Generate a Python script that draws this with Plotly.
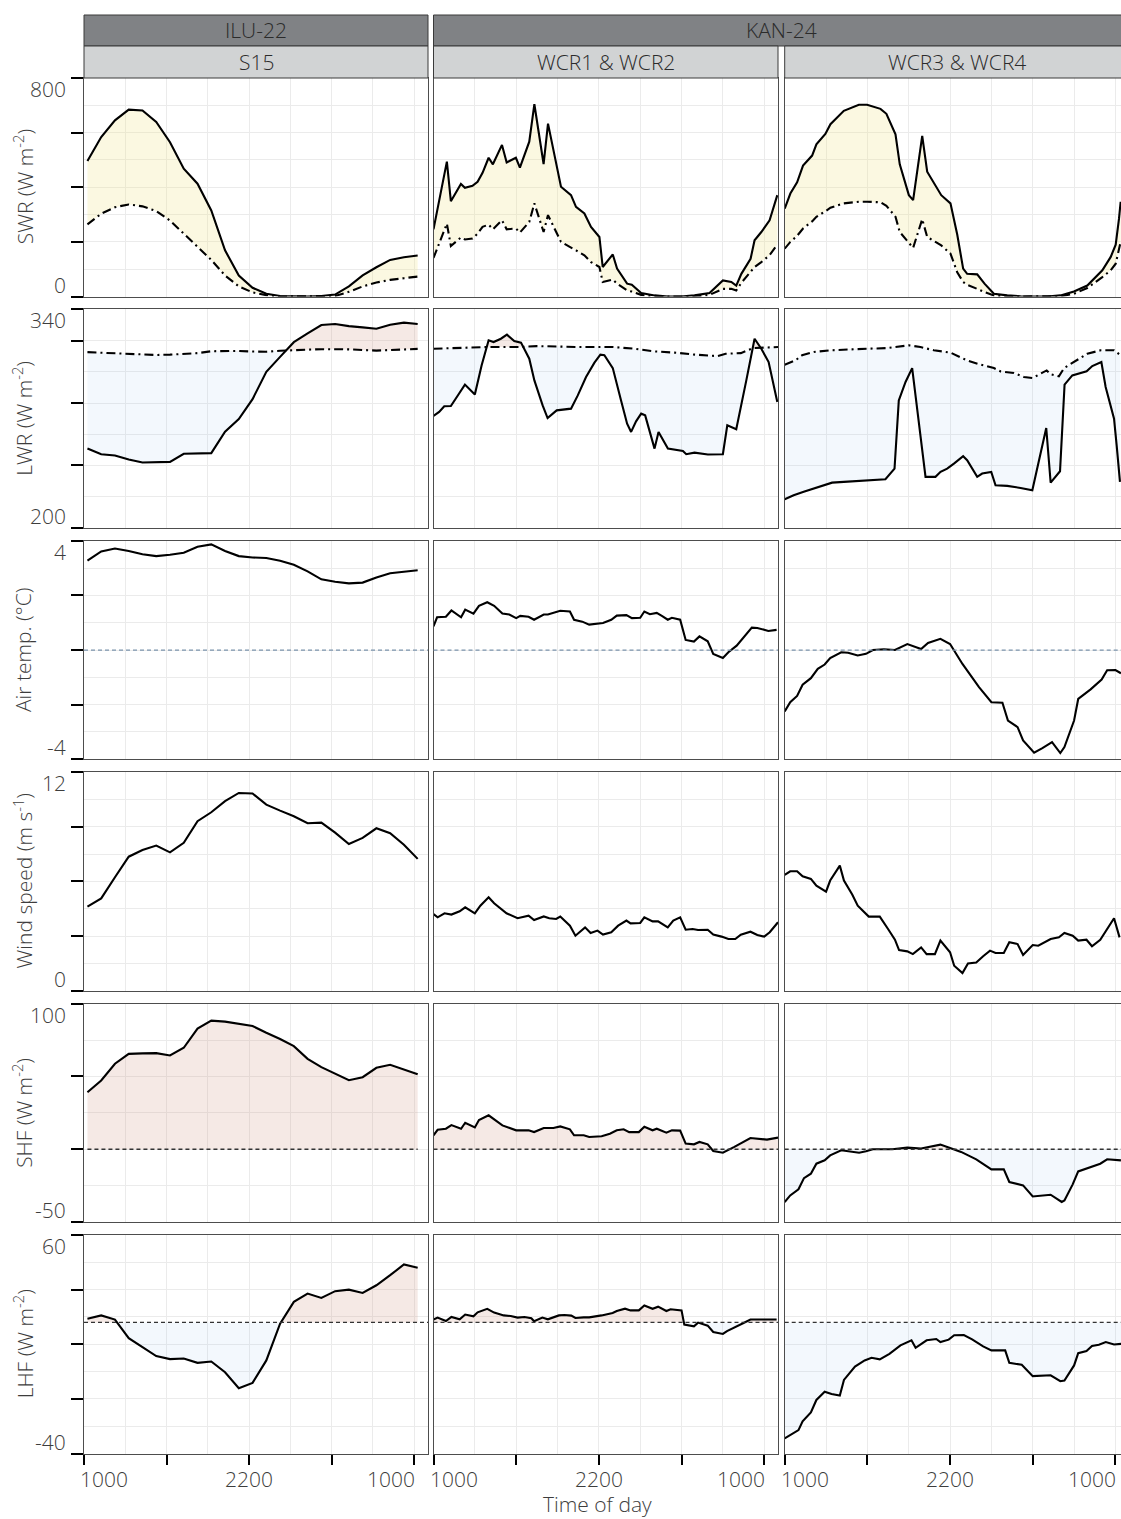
import numpy as np
import plotly.graph_objects as go

W, H = 1121, 1519
FONT = "'Open Sans', Roboto, 'Liberation Sans', Arial, sans-serif"

# ------------------------------------------------------------------ data
# Hours of day (10 = 10:00, 34 = 10:00 next day)
# ---- ILU-22 / S15 (hourly)
s15_t = [10.25, 11.25, 12.25, 13.25, 14.25, 15.25, 16.25, 17.25, 18.25, 19.25, 20.25, 21.25, 22.25,
         23.25, 24.25, 25.25, 26.25, 27.25, 28.25, 29.25, 30.25, 31.25, 32.25, 33.25, 34.25]
s15_swr_in = [496, 584, 645, 684, 681, 639, 565, 468, 413, 315, 169, 77, 32, 10, 2, 0, 0, 2, 7, 37, 77, 107, 134, 144, 150]
s15_swr_out = [264, 303, 327, 337, 330, 313, 278, 230, 183, 134, 77, 37, 15, 5, 0, 0, 0, 0, 2, 17, 37, 51, 61, 67, 73]
s15_lwr_in = [250.9, 247.2, 246.4, 243.8, 241.9, 241.9, 242.3, 247.5, 247.7, 247.9, 261.6, 269.7, 282.5,
              300.0, 309.6, 319.0, 324.6, 330.0, 330.6, 329.3, 328.5, 327.6, 330.2, 331.5, 330.6]
s15_lwr_out = [312.6, 312.3, 311.8, 311.3, 311.0, 310.8, 311.0, 311.5, 312.0, 313.2, 313.5, 313.4, 313.0,
               312.9, 313.5, 314.0, 314.2, 314.5, 314.6, 314.4, 314.0, 313.6, 314.0, 314.5, 314.7]
s15_air = [3.27, 3.61, 3.72, 3.63, 3.51, 3.44, 3.49, 3.56, 3.78, 3.87, 3.63, 3.44, 3.39, 3.37, 3.27, 3.12,
           2.88, 2.59, 2.50, 2.44, 2.47, 2.66, 2.81, 2.86, 2.92]
s15_wind = [4.62, 5.07, 6.23, 7.36, 7.73, 7.97, 7.60, 8.12, 9.31, 9.80, 10.41, 10.86, 10.83, 10.22, 9.89,
            9.58, 9.20, 9.23, 8.68, 8.06, 8.39, 8.92, 8.65, 8.02, 7.24]
s15_shf = [39.1, 47.2, 58.7, 65.5, 65.8, 66.0, 64.4, 69.7, 82.8, 88.3, 87.6, 86.2, 84.6, 80.0, 75.7, 70.8,
           62.1, 56.4, 51.8, 47.4, 49.5, 55.9, 58.0, 55.0, 51.5]
s15_lhf = [21.7, 23.2, 21.3, 12.8, 8.7, 4.6, 3.2, 3.5, 1.5, 2.1, -2.8, -10.1, -7.7, 2.6, 19.4, 29.4, 33.2,
           31.2, 34.3, 35.0, 33.5, 37.0, 41.6, 46.5, 45.0]

# ---- KAN-24 / WCR1 & WCR2
w12_swr_t = [10.00, 10.97, 11.26, 11.99, 12.28, 12.83, 13.20, 13.56, 14.00, 14.31, 14.97, 15.31, 15.98, 16.27,
             16.95, 17.32, 17.99, 18.31, 19.25, 19.98, 20.34, 20.95, 21.43, 22.04, 22.28, 23.01, 23.32, 24.05,
             24.39, 25.07, 26.04, 27.01, 27.97, 28.94, 30.03, 31.00, 31.61, 31.97, 32.34, 33.01, 33.30, 33.79,
             34.39, 34.95]
w12_swr_in = [246, 494, 349, 412, 398, 405, 420, 453, 508, 484, 555, 491, 508, 472, 567, 704, 485, 633, 402, 371,
              328, 304, 255, 218, 108, 154, 102, 47, 43, 13, 4, 0, 0, 4, 13, 59, 53, 40, 83, 138, 206, 236, 279, 371]
w12_swr_out = [141, 267, 185, 216, 209, 212, 230, 255, 263, 246, 279, 246, 249, 234, 273, 341, 236, 298, 200, 181,
               169, 151, 126, 108, 53, 62, 47, 22, 18, 6, 1, 0, 0, 0, 6, 28, 28, 22, 50, 89, 108, 126, 151, 190]
w12_lwr_in_t = [10.00, 10.41, 10.78, 11.26, 11.74, 12.28, 13.00, 13.49, 14.00, 14.36, 14.89, 15.33, 15.86, 16.35,
                16.95, 17.32, 17.92, 18.28, 18.94, 19.45, 19.98, 20.47, 21.07, 21.68, 22.11, 22.40, 23.01, 23.61,
                24.05, 24.34, 24.70, 25.07, 25.36, 26.04, 26.33, 27.01, 27.61, 28.10, 28.34, 28.94, 29.91, 31.00,
                31.32, 31.97, 32.70, 33.30, 33.79, 34.32, 34.95]
w12_lwr_in = [271.7, 274.3, 277.9, 278.1, 284.5, 291.8, 285.4, 304.1, 320.2, 319.1, 321.2, 323.8, 319.7, 318.7,
              308.4, 294.5, 278.5, 270.4, 275.3, 276.0, 276.4, 284.9, 296.7, 305.9, 311.0, 310.6, 302.4, 281.7,
              266.8, 261.5, 268.3, 273.2, 272.1, 250.8, 261.5, 250.8, 249.7, 249.3, 247.2, 248.2, 247.0, 247.2,
              265.7, 263.2, 294.5, 321.2, 314.8, 306.3, 280.7]
w12_lwr_out_t = [10.0, 11.5, 14.0, 16.3, 17.5, 20.5, 23.0, 24.6, 26.0, 27.5, 29.0, 30.6, 31.2, 32.3, 33.2, 35.0]
w12_lwr_out = [314.8, 315.3, 315.9, 315.9, 316.5, 315.9, 315.9, 314.8, 313.1, 312.3, 311.0, 310.1, 311.6, 312.0,
               315.2, 315.9]
w12_air_t = [10.0, 10.26, 10.9, 11.3, 12.0, 12.3, 12.9, 13.3, 13.9, 14.4, 15.0, 15.5, 16.0, 16.3, 16.9, 17.3,
             18.0, 18.3, 19.2, 19.9, 20.2, 20.8, 21.3, 22.3, 22.9, 23.3, 24.0, 24.4, 25.0, 25.3, 25.7, 26.2,
             26.6, 27.0, 27.3, 27.9, 28.3, 28.9, 29.3, 29.9, 30.3, 31.0, 31.4, 32.0, 33.1, 33.5, 34.3, 34.9]
w12_air = [0.87, 1.20, 1.22, 1.45, 1.20, 1.48, 1.33, 1.62, 1.75, 1.62, 1.34, 1.30, 1.17, 1.25, 1.22, 1.11,
           1.30, 1.30, 1.44, 1.41, 1.11, 1.04, 0.93, 0.99, 1.11, 1.26, 1.28, 1.17, 1.18, 1.41, 1.31, 1.36,
           1.24, 1.11, 1.18, 1.11, 0.37, 0.31, 0.50, 0.32, -0.14, -0.29, -0.08, 0.16, 0.82, 0.81, 0.70, 0.74]
w12_wind_t = [10.0, 10.3, 10.8, 11.3, 11.9, 12.3, 13.0, 13.4, 14.0, 14.4, 15.3, 16.1, 16.9, 17.3, 18.0, 18.4,
              18.9, 19.2, 19.9, 20.3, 21.0, 21.4, 21.9, 22.3, 22.9, 23.4, 24.0, 24.3, 25.0, 25.3, 25.9, 26.3,
              27.0, 27.4, 27.9, 28.3, 28.8, 29.2, 29.9, 30.3, 30.9, 31.4, 31.9, 32.3, 33.0, 33.5, 34.0, 34.4, 35.0]
w12_wind = [4.21, 4.03, 4.25, 4.18, 4.36, 4.58, 4.25, 4.67, 5.13, 4.80, 4.25, 3.98, 4.12, 3.88, 4.08, 3.98,
            3.94, 4.07, 3.57, 3.02, 3.48, 3.17, 3.30, 3.08, 3.21, 3.57, 3.85, 3.70, 3.72, 4.03, 3.81, 3.81,
            3.48, 3.85, 4.03, 3.35, 3.39, 3.33, 3.35, 3.08, 2.97, 2.84, 2.84, 3.08, 3.24, 3.06, 2.97, 3.21, 3.76]
w12_shf_t = [10.0, 10.3, 10.9, 11.3, 12.0, 12.3, 13.0, 13.3, 14.0, 14.4, 15.0, 16.0, 16.9, 17.3, 18.0, 18.7,
             19.2, 19.9, 20.2, 20.9, 21.3, 22.2, 22.8, 23.3, 23.8, 24.2, 24.9, 25.3, 25.9, 26.2, 26.9, 27.3,
             27.9, 28.3, 28.9, 29.3, 29.9, 30.3, 31.0, 31.8, 33.0, 34.2, 35.0]
w12_shf = [9.6, 13.4, 14.1, 16.6, 14.1, 18.2, 15.0, 20.1, 23.3, 20.5, 16.4, 13.0, 13.0, 11.8, 14.6, 14.6,
           15.7, 13.7, 9.6, 9.6, 8.4, 8.9, 10.7, 13.0, 13.7, 11.8, 11.8, 15.5, 13.0, 14.1, 11.4, 13.0,
           12.8, 3.9, 3.4, 5.0, 3.4, -1.2, -2.4, 1.5, 7.7, 6.6, 8.0]
w12_lhf_t = [10.0, 10.3, 10.9, 11.3, 11.9, 12.3, 12.9, 13.2, 13.9, 14.4, 15.1, 15.6, 16.1, 16.6, 17.1, 17.3,
             17.9, 18.3, 19.1, 19.5, 20.0, 20.3, 20.9, 21.3, 22.2, 23.0, 23.3, 23.9, 24.3, 24.9, 25.3, 25.9,
             26.3, 26.9, 27.2, 28.0, 28.2, 28.9, 29.2, 29.9, 30.3, 31.0, 31.3, 32.1, 32.5, 33.0, 34.1, 34.9]
w12_lhf = [21.3, 22.2, 20.6, 22.5, 21.4, 23.6, 22.8, 24.6, 26.2, 24.5, 23.2, 22.9, 22.2, 22.5, 21.9, 20.5,
           22.2, 21.4, 23.2, 23.4, 23.1, 22.0, 22.3, 22.3, 23.2, 24.3, 25.2, 26.3, 25.5, 25.5, 27.7, 26.2,
           27.2, 25.2, 26.0, 25.5, 19.0, 18.2, 19.9, 18.5, 15.6, 14.7, 16.0, 18.3, 19.7, 21.3, 21.3, 21.3]

# ---- KAN-24 / WCR3 & WCR4
w34_swr_t = [10.00, 10.41, 10.90, 11.33, 11.99, 12.30, 12.95, 13.32, 14.29, 15.38, 15.98, 16.95, 17.38, 18.04,
             18.35, 19.01, 19.32, 19.98, 20.34, 20.94, 21.36, 22.03, 22.52, 22.95, 23.24, 23.97, 24.50, 25.18,
             26.15, 27.12, 29.06, 30.02, 30.99, 31.96, 33.05, 33.66, 34.02, 34.26, 34.38]
w34_swr_in = [322, 377, 418, 479, 516, 557, 595, 631, 680, 702, 702, 687, 669, 594, 484, 371, 353, 588, 457, 408,
              371, 341, 227, 102, 83, 81, 47, 10, 4, 1, 0, 4, 18, 40, 96, 145, 190, 285, 347]
w34_swr_out = [175, 200, 222, 249, 275, 292, 312, 325, 341, 347, 347, 345, 332, 292, 236, 194, 178, 283, 218, 200,
               187, 157, 89, 53, 43, 28, 16, 4, 0, 0, 0, 1, 10, 31, 71, 96, 120, 170, 200]
w34_lwr_in_t = [10.00, 10.65, 11.38, 12.11, 12.83, 13.44, 14.29, 15.25, 16.22, 17.31, 17.97, 18.28, 18.77, 19.25,
                20.22, 20.94, 21.31, 21.79, 22.28, 22.95, 23.24, 23.97, 24.33, 24.99, 25.30, 26.15, 27.12, 27.97,
                28.98, 29.30, 29.98, 30.31, 30.87, 31.48, 31.91, 32.32, 32.98, 33.29, 33.90, 34.09, 34.33]
w34_lwr_in = [218.4, 220.9, 223.1, 225.2, 226.9, 229.0, 229.5, 229.9, 230.5, 231.2, 238.0, 281.7, 293.5, 302.4,
              232.7, 232.7, 235.9, 238.0, 241.2, 245.9, 243.4, 232.7, 234.8, 235.9, 227.3, 226.9, 225.6, 224.1,
              264.0, 229.0, 236.3, 291.8, 297.7, 299.2, 300.3, 303.7, 306.3, 290.3, 270.0, 252.9, 229.5]
w34_lwr_out_t = [10.00, 10.77, 11.26, 12.11, 13.32, 14.53, 15.98, 17.43, 18.04, 19.01, 19.85, 20.82, 22.03, 23.24,
                 24.21, 25.18, 25.67, 26.63, 27.36, 27.97, 28.57, 29.01, 29.30, 29.90, 30.27, 30.99, 31.96, 32.93,
                 33.90, 34.38]
w34_lwr_out = [304.6, 307.3, 310.6, 312.7, 313.8, 314.4, 314.8, 315.2, 315.9, 317.0, 315.9, 313.8, 312.3, 307.3,
               304.6, 302.4, 300.3, 299.2, 296.7, 296.0, 298.8, 300.9, 298.4, 297.1, 302.4, 306.3, 311.6, 313.8,
               313.8, 310.6]
w34_air_t = [10.0, 10.4, 10.9, 11.3, 11.9, 12.4, 12.9, 13.3, 14.1, 14.6, 15.3, 15.9, 16.4, 17.2, 18.0, 18.9,
             19.9, 20.4, 21.3, 22.0, 22.9, 24.1, 25.0, 25.8, 26.2, 26.9, 27.3, 28.1, 28.7, 29.4, 30.0, 30.3,
             31.0, 31.3, 32.2, 33.0, 33.4, 34.0, 34.4]
w34_air = [-2.25, -1.91, -1.68, -1.27, -1.03, -0.69, -0.53, -0.29, -0.08, -0.10, -0.20, -0.14, 0.00, 0.03,
           0.00, 0.22, 0.04, 0.26, 0.41, 0.22, -0.51, -1.36, -1.91, -1.93, -2.58, -2.82, -3.31, -3.76, -3.59,
           -3.37, -3.77, -3.55, -2.58, -1.79, -1.44, -1.08, -0.74, -0.73, -0.85]
w34_wind_t = [10.0, 10.4, 10.9, 11.3, 11.9, 12.3, 13.0, 13.3, 14.0, 14.3, 14.9, 15.3, 16.1, 16.9, 17.5, 18.0,
              18.3, 18.9, 19.3, 19.9, 20.3, 20.9, 21.3, 22.0, 22.3, 22.9, 23.3, 23.9, 24.4, 24.9, 25.3, 25.9,
              26.3, 26.9, 27.3, 28.0, 28.4, 28.9, 29.3, 29.9, 30.3, 30.9, 31.3, 31.9, 32.3, 32.9, 33.4, 33.9, 34.3]
w34_wind = [6.36, 6.56, 6.56, 6.28, 6.14, 5.77, 5.44, 6.05, 6.87, 6.05, 5.28, 4.67, 4.07, 4.07, 3.39, 2.80,
            2.23, 2.16, 2.01, 2.38, 2.01, 2.01, 2.75, 2.11, 1.37, 0.97, 1.50, 1.55, 1.89, 2.20, 2.07, 2.07,
            2.66, 2.56, 1.96, 2.51, 2.47, 2.66, 2.84, 2.93, 3.17, 3.02, 2.75, 2.80, 2.44, 2.80, 3.39, 3.98, 2.93]
w34_shf_t = [10.0, 10.4, 11.0, 11.4, 11.9, 12.3, 12.9, 13.3, 14.1, 14.8, 15.4, 15.9, 16.4, 17.8, 18.9, 19.9,
             20.4, 21.3, 22.0, 22.8, 23.9, 25.0, 25.9, 26.3, 27.3, 28.0, 29.3, 30.1, 30.3, 30.9, 31.3, 31.9,
             32.3, 32.9, 33.4, 34.0, 34.4]
w34_shf = [-36.2, -31.7, -27.5, -19.8, -16.8, -9.9, -7.6, -4.2, -0.7, -1.4, -2.4, -1.4, 0.0, 0.0, 1.1, 0.5,
           1.6, 3.2, 0.9, -1.8, -6.9, -13.8, -13.8, -22.5, -24.8, -32.4, -31.2, -36.2, -35.1, -24.1, -15.2,
           -13.3, -11.5, -9.9, -6.9, -7.6, -7.6]
w34_lhf_t = [10.0, 10.4, 11.0, 11.3, 11.9, 12.3, 12.9, 13.4, 14.0, 14.3, 15.1, 15.8, 16.3, 16.9, 17.6, 18.4,
             19.2, 19.5, 20.3, 21.0, 21.3, 21.9, 22.3, 23.0, 23.6, 24.4, 25.0, 26.0, 26.3, 27.2, 28.0, 29.3,
             30.0, 30.3, 31.0, 31.3, 31.9, 32.3, 32.8, 33.3, 33.9, 34.5]
w34_lhf = [-33.1, -31.6, -29.3, -25.3, -21.2, -15.5, -11.7, -12.8, -13.5, -6.3, -0.2, 2.6, 3.8, 3.1, 5.6, 9.5,
           11.8, 8.4, 11.8, 12.4, 11.0, 12.1, 14.1, 14.2, 12.2, 9.0, 7.2, 7.2, 1.5, 0.6, -4.6, -4.2, -6.9,
           -6.6, 0.3, 5.9, 6.9, 9.2, 9.8, 11.0, 9.9, 10.2]

# ---- labels / axes
site_labels = ["ILU-22", "KAN-24"]
panel_labels = ["S15", "WCR1 & WCR2", "WCR3 & WCR4"]
row_titles = ["SWR (W m<sup>-2</sup>)", "LWR (W m<sup>-2</sup>)", "Air temp. (°C)",
              "Wind speed (m s<sup>-1</sup>)", "SHF (W m<sup>-2</sup>)", "LHF (W m<sup>-2</sup>)"]
y_limits = [(0, 800), (200, 340), (-4, 4), (0, 12), (-50, 100), (-40, 60)]
y_major = [[0, 200, 400, 600, 800], [200, 240, 280, 320, 340], [-4, -2, 0, 2, 4], [0, 3, 6, 9, 12],
           [-50, 0, 50, 100], [-40, -15, 10, 35, 60]]
y_minor = [[100, 300, 500, 700], [220, 260, 300], [-3, -1, 1, 3], [1.5, 4.5, 7.5, 10.5],
           [-25, 25, 75], [-27.5, -2.5, 22.5, 47.5]]
y_tick_text = [("0", "800"), ("200", "340"), ("-4", "4"), ("0", "12"), ("-50", "100"), ("-40", "60")]
x_major = [10, 16, 22, 28, 34]
x_minor = [13, 19, 25, 31]
x_tick_text = {10: "1000", 22: "2200", 34: "1000"}
air_ref, shf_ref, lhf_ref = 0, 0, 20

# ------------------------------------------------------------------ layout geometry (pixels)
col_px = [(84, 428), (433.5, 778), (784.7, 1121)]
px_per_h = (778 - 433.5) / 25.0
x_ranges = [[10, 35], [10, 35], [10, 10 + (1121 - 784.7) / px_per_h]]
row_top = [78, 309.4, 540.8, 772.2, 1003.6, 1235]
row_h = 218.5

C_YEL = "rgba(240,228,140,0.26)"
C_PINK = "rgba(205,145,125,0.2)"
C_BLUE = "rgba(160,200,235,0.12)"
GRID = "#EBEBEB"
BORDER = "#4D4D4D"
TXT = "#3D3D3D"
FS = 21


def px2x(p):
    return p / W


def px2y(p):
    return 1 - p / H


def aid(r, c):
    return r * 3 + c + 1


def xn(i):
    return "x" if i == 1 else f"x{i}"


def yn(i):
    return "y" if i == 1 else f"y{i}"


def band(xa, ya, xb, yb):
    xa, ya, xb, yb = (np.asarray(v, float) for v in (xa, ya, xb, yb))
    lo, hi = max(xa[0], xb[0]), min(xa[-1], xb[-1])
    g = np.union1d(xa, xb)
    g = g[(g >= lo) & (g <= hi)]
    a = np.interp(g, xa, ya)
    b = np.interp(g, xb, yb)
    xs, A, B = [g[0]], [a[0]], [b[0]]
    for i in range(1, len(g)):
        d0, d1 = a[i - 1] - b[i - 1], a[i] - b[i]
        if d0 * d1 < 0:
            f = d0 / (d0 - d1)
            xc = g[i - 1] + f * (g[i] - g[i - 1])
            yc = b[i - 1] + f * (b[i] - b[i - 1])
            xs.append(xc); A.append(yc); B.append(yc)
        xs.append(g[i]); A.append(a[i]); B.append(b[i])
    xs, A, B = np.array(xs), np.array(A), np.array(B)
    px = np.concatenate([xs, xs[::-1]])
    pos = np.concatenate([np.maximum(A, B), B[::-1]])
    neg = np.concatenate([B, np.minimum(A, B)[::-1]])
    return px, pos, neg


fig = go.Figure()


def add_fill(i, xa, ya, xb, yb, cpos, cneg):
    px, pos, neg = band(xa, ya, xb, yb)
    for yy, cc in ((pos, cpos), (neg, cneg)):
        fig.add_trace(go.Scatter(x=px, y=yy, xaxis=xn(i), yaxis=yn(i), mode="lines", fill="toself",
                                 fillcolor=cc, line=dict(width=0), hoverinfo="skip", showlegend=False))


def add_line(i, x, y, dash="solid"):
    fig.add_trace(go.Scatter(x=x, y=y, xaxis=xn(i), yaxis=yn(i), mode="lines",
                             line=dict(color="black", width=2.1, dash=dash), hoverinfo="skip",
                             showlegend=False))


DASHDOT = "9px,4px,2px,4px"

cols = [
    dict(swr=(s15_t, s15_swr_in, s15_t, s15_swr_out), lwr=(s15_t, s15_lwr_in, s15_t, s15_lwr_out),
         air=(s15_t, s15_air), wind=(s15_t, s15_wind), shf=(s15_t, s15_shf), lhf=(s15_t, s15_lhf)),
    dict(swr=(w12_swr_t, w12_swr_in, w12_swr_t, w12_swr_out),
         lwr=(w12_lwr_in_t, w12_lwr_in, w12_lwr_out_t, w12_lwr_out),
         air=(w12_air_t, w12_air), wind=(w12_wind_t, w12_wind), shf=(w12_shf_t, w12_shf),
         lhf=(w12_lhf_t, w12_lhf)),
    dict(swr=(w34_swr_t, w34_swr_in, w34_swr_t, w34_swr_out),
         lwr=(w34_lwr_in_t, w34_lwr_in, w34_lwr_out_t, w34_lwr_out),
         air=(w34_air_t, w34_air), wind=(w34_wind_t, w34_wind), shf=(w34_shf_t, w34_shf),
         lhf=(w34_lhf_t, w34_lhf)),
]

shapes = []
annotations = []
label_font = dict(family=FONT, size=FS, color=TXT, weight=300)

for c, d in enumerate(cols):
    # SWR
    i = aid(0, c)
    xa, ya, xb, yb = d["swr"]
    add_fill(i, xa, ya, xb, yb, C_YEL, C_YEL)
    add_line(i, xb, yb, DASHDOT)
    add_line(i, xa, ya)
    # LWR
    i = aid(1, c)
    xa, ya, xb, yb = d["lwr"]
    add_fill(i, xa, ya, xb, yb, C_PINK, C_BLUE)
    add_line(i, xb, yb, DASHDOT)
    add_line(i, xa, ya)
    # Air temperature
    i = aid(2, c)
    shapes.append(dict(type="line", xref=f"{xn(i)} domain", x0=0, x1=1, yref=yn(i), y0=air_ref, y1=air_ref,
                       line=dict(color="#7A93AC", width=1.3, dash="4px,3px"), layer="above"))
    add_line(i, *d["air"])
    # Wind
    i = aid(3, c)
    add_line(i, *d["wind"])
    # SHF
    i = aid(4, c)
    t, v = d["shf"]
    add_fill(i, t, v, [t[0], t[-1]], [shf_ref, shf_ref], C_PINK, C_BLUE)
    shapes.append(dict(type="line", xref=xn(i), x0=t[0], x1=t[-1], yref=yn(i), y0=shf_ref, y1=shf_ref,
                       line=dict(color="#333333", width=1.3, dash="4px,3px"), layer="above"))
    add_line(i, t, v)
    # LHF
    i = aid(5, c)
    t, v = d["lhf"]
    add_fill(i, t, v, [t[0], t[-1]], [lhf_ref, lhf_ref], C_PINK, C_BLUE)
    shapes.append(dict(type="line", xref=f"{xn(i)} domain", x0=0, x1=1, yref=yn(i), y0=lhf_ref, y1=lhf_ref,
                       line=dict(color="#333333", width=1.3, dash="4px,3px"), layer="above"))
    add_line(i, t, v)

layout = dict(width=W, height=H, margin=dict(l=0, r=0, t=0, b=0), paper_bgcolor="white",
              plot_bgcolor="white", showlegend=False, font=dict(family=FONT, color=TXT))

for r in range(6):
    for c in range(3):
        i = aid(r, c)
        x0, x1 = col_px[c]
        xkey = "xaxis" if i == 1 else f"xaxis{i}"
        ykey = "yaxis" if i == 1 else f"yaxis{i}"
        layout[xkey] = dict(
            domain=[px2x(x0), min(1.0, px2x(x1))], range=x_ranges[c], anchor=yn(i),
            tickmode="array", tickvals=x_major, showticklabels=False,
            ticks="outside" if r == 5 else "", ticklen=10, tickwidth=2, tickcolor="black",
            showgrid=True, gridcolor=GRID, gridwidth=1,
            minor=dict(tickmode="array", tickvals=x_minor, showgrid=True, gridcolor=GRID, gridwidth=0.8, ticks=""),
            showline=True, linecolor=BORDER, linewidth=1.3, mirror=True, zeroline=False, fixedrange=True)
        top = row_top[r]
        layout[ykey] = dict(
            domain=[px2y(top + row_h), px2y(top)], range=list(y_limits[r]), anchor=xn(i),
            tickmode="array", tickvals=y_major[r], showticklabels=False,
            ticks="outside" if c == 0 else "", ticklen=12, tickwidth=2, tickcolor="black",
            showgrid=True, gridcolor=GRID, gridwidth=1,
            minor=dict(tickmode="array", tickvals=y_minor[r], showgrid=True, gridcolor=GRID, gridwidth=0.8, ticks=""),
            showline=True, linecolor=BORDER, linewidth=1.3, mirror=(c < 2), zeroline=False, fixedrange=True)

    # row title and y tick labels
    i = aid(r, 0)
    annotations.append(dict(text=row_titles[r], xref="paper", yref="paper", x=px2x(23),
                            y=px2y(row_top[r] + row_h / 2), textangle=-90, showarrow=False,
                            xanchor="center", yanchor="middle", font=label_font))
    lo_txt, hi_txt = y_tick_text[r]
    annotations.append(dict(text=hi_txt, xref="paper", yref=yn(i), x=px2x(84), y=y_limits[r][1],
                            xanchor="right", yanchor="top", xshift=-16, yshift=5, showarrow=False,
                            font=label_font))
    annotations.append(dict(text=lo_txt, xref="paper", yref=yn(i), x=px2x(84), y=y_limits[r][0],
                            xanchor="right", yanchor="bottom", xshift=-16, yshift=-4, showarrow=False,
                            font=label_font))

# x tick labels
for c in range(3):
    i = aid(5, c)
    for xv, txt in x_tick_text.items():
        anchor = {10: "left", 22: "center", 34: "right"}[xv]
        shift = {10: -6, 22: 0, 34: 3}[xv]
        annotations.append(dict(text=txt, xref=xn(i), yref="paper", x=xv, y=px2y(row_top[5] + row_h),
                                xanchor=anchor, yanchor="top", xshift=shift, yshift=-9, showarrow=False,
                                font=label_font))
annotations.append(dict(text="Time of day", xref="paper", yref="paper", x=px2x(597), y=px2y(1504),
                        xanchor="center", yanchor="middle", showarrow=False, font=label_font))

# strips
strip_dark = "#808285"
strip_light = "#D1D3D4"
shapes.append(dict(type="rect", xref="paper", yref="paper", x0=px2x(84), x1=px2x(428), y0=px2y(46), y1=px2y(15),
                   fillcolor=strip_dark, line=dict(color="#3A3A3A", width=1), layer="above"))
shapes.append(dict(type="rect", xref="paper", yref="paper", x0=px2x(433.5), x1=px2x(1135), y0=px2y(46),
                   y1=px2y(15), fillcolor=strip_dark, line=dict(color="#3A3A3A", width=1), layer="above"))
for c in range(3):
    x0, x1 = col_px[c]
    if c == 2:
        x1 = 1135
    shapes.append(dict(type="rect", xref="paper", yref="paper", x0=px2x(x0), x1=px2x(x1), y0=px2y(78),
                       y1=px2y(46), fillcolor=strip_light, line=dict(color="#3A3A3A", width=1), layer="above"))
strip_font = dict(family=FONT, size=FS, color="#2B2B2B", weight=300)
annotations.append(dict(text=site_labels[0], xref="paper", yref="paper", x=px2x((84 + 428) / 2), y=px2y(30.5),
                        showarrow=False, xanchor="center", yanchor="middle", font=strip_font))
annotations.append(dict(text=site_labels[1], xref="paper", yref="paper", x=px2x((433.5 + 1129) / 2),
                        y=px2y(30.5), showarrow=False, xanchor="center", yanchor="middle", font=strip_font))
for c in range(3):
    x0, x1 = col_px[c]
    if c == 2:
        x1 = 1129
    annotations.append(dict(text=panel_labels[c], xref="paper", yref="paper", x=px2x((x0 + x1) / 2),
                            y=px2y(62), showarrow=False, xanchor="center", yanchor="middle", font=strip_font))

layout["shapes"] = shapes
layout["annotations"] = annotations
fig.update_layout(**layout)
fig.write_html("out.html")
